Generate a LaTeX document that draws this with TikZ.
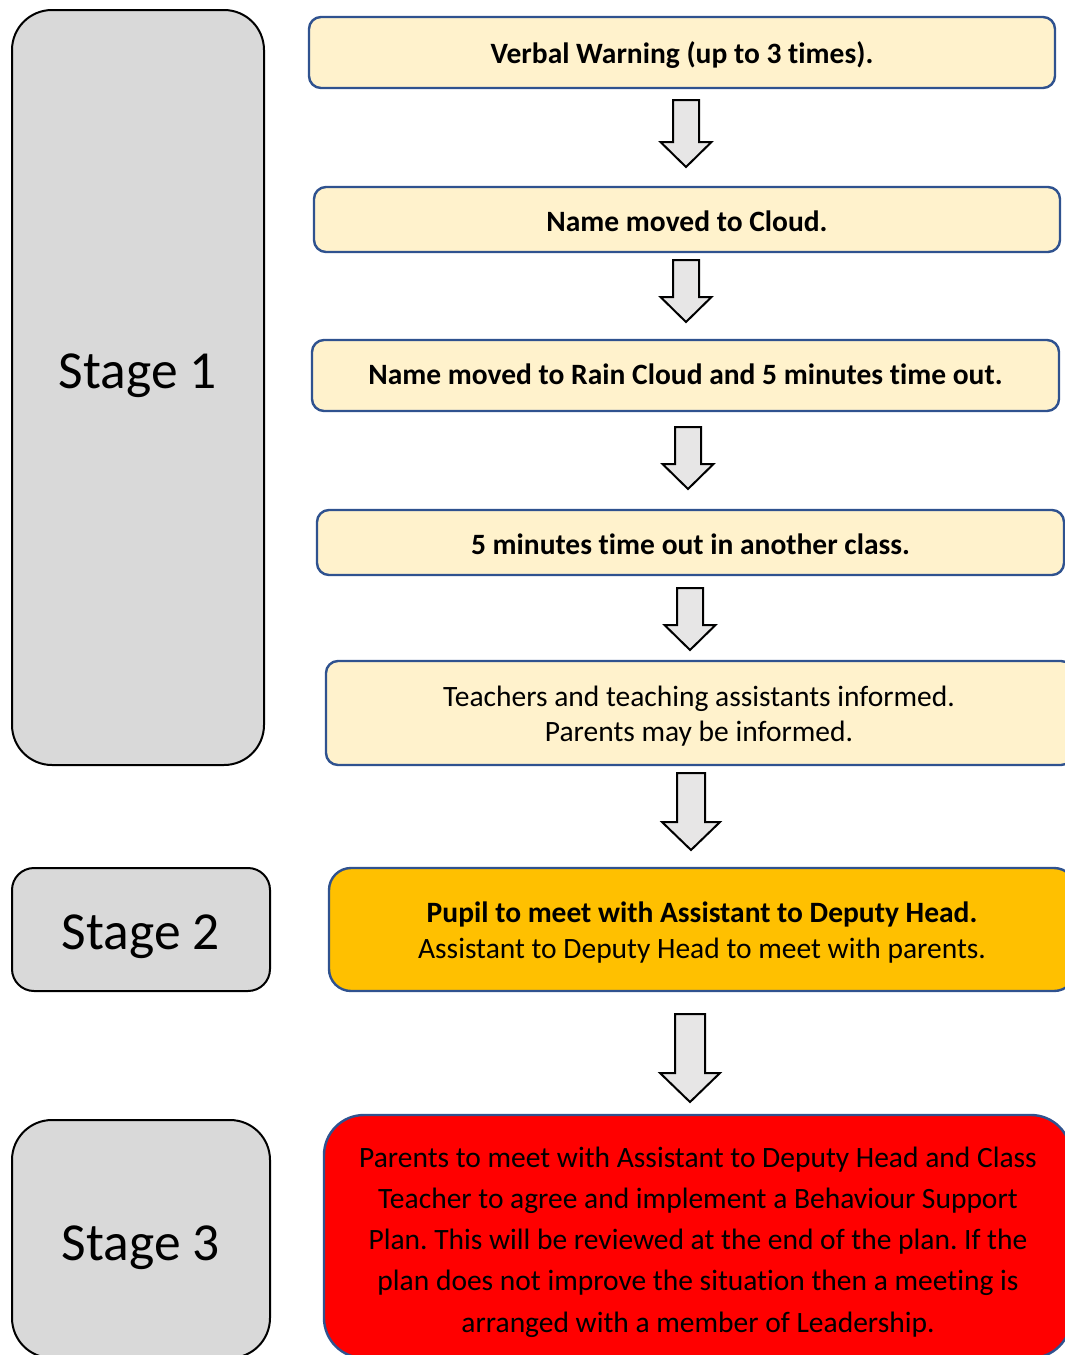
\documentclass[tikz,border=0pt]{standalone}
\usepackage{fontspec}
\setmainfont{Carlito}[Ligatures={NoCommon}]
\frenchspacing
\definecolor{stagegray}{HTML}{D9D9D9}
\definecolor{paleyellow}{HTML}{FFF2CC}
\definecolor{boxblue}{HTML}{2F528F}
\definecolor{amber}{HTML}{FFC000}
\definecolor{arrowgray}{HTML}{E7E6E6}
\newcommand{\blockarrow}[7]{% cx, ytop, yhead, ytip, shaftw, headw, name
  \path[arrowshape] (#1-#5/2,#2) -- (#1+#5/2,#2) -- (#1+#5/2,#3) -- (#1+#6/2,#3)
     -- (#1,#4) -- (#1-#6/2,#3) -- (#1-#5/2,#3) -- cycle;
  \coordinate (#7) at (#1,#4);
}
\begin{document}
\begin{tikzpicture}[x=1pt,y=-1pt,
  stagebox/.style={draw=black,line width=2pt,fill=stagegray,rounded corners=#1,inner sep=0pt},
  stepbox/.style={draw=boxblue,line width=2.4pt,fill=paleyellow,rounded corners=12pt,inner sep=0pt},
  stagetext/.style={font=\fontsize{53.5}{64}\selectfont},
  boldtext/.style={font=\fontsize{29.5}{35}\selectfont\bfseries},
  bodytext/.style={font=\fontsize{29.5}{35}\selectfont,align=center},
  arrowshape/.style={draw=black,line width=2pt,fill=arrowgray,line join=miter}]
\useasboundingbox (0,0) rectangle (1065,1355);
\begin{scope}
\clip (0,0) rectangle (1065,1355);
% stage boxes
\node[stagebox=40pt,minimum width=252pt,minimum height=755pt] (s1) at (138,387.5) {};
\node[stagetext] (s1t) at (138,376) {Stage 1};
\node[stagebox=22pt,minimum width=258pt,minimum height=123pt] (s2) at (141,929.5) {};
\node[stagetext] (s2t) at (141,937) {Stage 2};
\node[stagebox=40pt,minimum width=258pt,minimum height=238pt] (s3) at (141,1239) {};
\node[stagetext] (s3t) at (141,1248) {Stage 3};
% step boxes
\node[stepbox,minimum width=746pt,minimum height=71pt] (b1) at (682,52.5) {};
\node[boldtext] (b1t) at (682,55) {Verbal Warning (up to 3 times).};
\node[stepbox,minimum width=746pt,minimum height=65pt] (b2) at (687,219.5) {};
\node[boldtext] (b2t) at (687,221) {Name moved to Cloud.};
\node[stepbox,minimum width=747pt,minimum height=71pt] (b3) at (685.5,375.5) {};
\node[boldtext] (b3t) at (685.5,374) {Name moved to Rain Cloud and 5 minutes time out.};
\node[stepbox,minimum width=747pt,minimum height=65pt] (b4) at (690.5,542.5) {};
\node[boldtext] (b4t) at (690.5,544) {5 minutes time out in another class.};
\node[stepbox,minimum width=747pt,minimum height=104pt] (b5) at (699.5,713) {};
\node[bodytext] (b5t) at (699,716) {Teachers and teaching assistants informed.\\Parents may be informed.};
\node[stepbox,fill=amber,rounded corners=22pt,minimum width=747pt,minimum height=123pt] (b6) at (702.5,929.5) {};
\node[bodytext,font=\fontsize{29.5}{36}\selectfont] (b6t) at (702,933) {\textbf{Pupil to meet with Assistant to Deputy Head.}\\Assistant to Deputy Head to meet with parents.};
\node[stepbox,fill=red,rounded corners=40pt,minimum width=747pt,minimum height=243pt] (b7) at (697.5,1236.5) {};
\node[bodytext,font=\fontsize{29.5}{41.2}\selectfont] (b7t) at (698,1242) {Parents to meet with Assistant to Deputy Head and Class\\Teacher to agree and implement a Behaviour Support\\Plan. This will be reviewed at the end of the plan. If the\\plan does not improve the situation then a meeting is\\arranged with a member of Leadership.};
% block arrows
\blockarrow{686}{100}{142}{167}{26}{51}{a1}
\blockarrow{686}{260}{297}{322}{26}{51}{a2}
\blockarrow{688}{427}{464}{489}{26}{51}{a3}
\blockarrow{690}{588}{625}{650}{26}{51}{a4}
\blockarrow{691}{773}{822}{850}{28}{58}{a5}
\blockarrow{690}{1014}{1073}{1102}{30}{60}{a6}
\end{scope}
\end{tikzpicture}
\end{document}
